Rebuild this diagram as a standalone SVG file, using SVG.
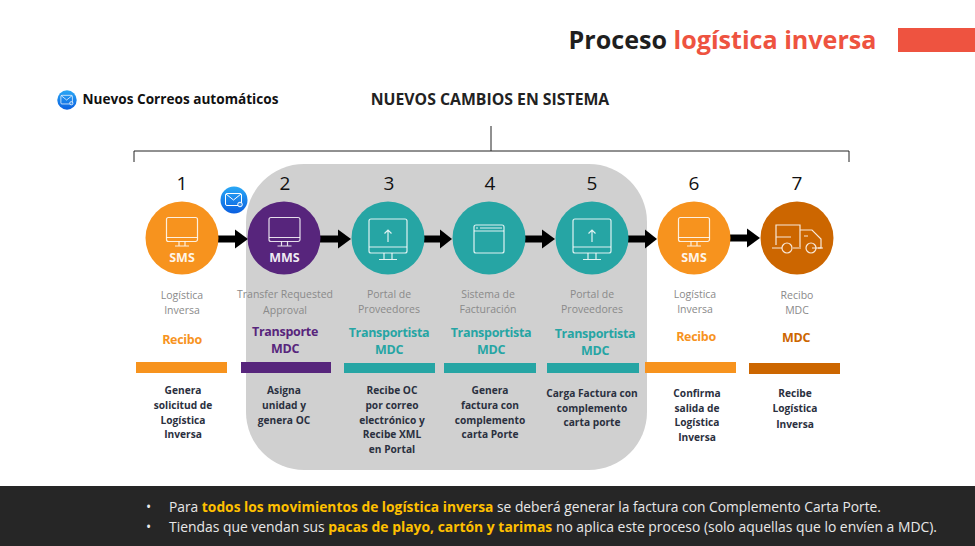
<svg xmlns="http://www.w3.org/2000/svg" width="975" height="546" viewBox="0 0 975 546">
<defs>
<style>
text{font-family:"Open Sans","Noto Sans","Liberation Sans",sans-serif;text-anchor:middle}
.num{font-size:19px;font-weight:500;fill:#111}
.sys{font-size:10.5px;fill:#8a8a8a}
.role{font-size:12.500px;font-weight:700;letter-spacing:-.3px}
.desc{font-size:10.2px;font-weight:700;fill:#2b3040}
.tag{font-size:12.500px;font-weight:700;fill:#fff;fill-opacity:.92}
.ico{fill:none;stroke:#fff;stroke-opacity:.85;stroke-width:1.2}
.org{fill:#f7931e}.pur{fill:#57257c}.teal{fill:#26a5a4}.brn{fill:#cc6600}
.conn{stroke:#000;stroke-width:7;fill:none}
.bot{font-size:13.800px;fill:#e8e8e8;text-anchor:start}
.hl{font-weight:700;fill:#ffc000}
</style>
<linearGradient id="mail" x1="0" y1="0" x2="0" y2="1"><stop offset="0" stop-color="#2aa8f5"/><stop offset="1" stop-color="#0a5fe0"/></linearGradient>
<g id="monitor" class="ico"><rect x="-15.500" y="-20.500" width="31" height="24" rx="2"/><path d="M-15.500-.5H15.500M-3 3.500V8M3 3.500V8M-7 8H7"/></g>
<g id="upload" class="ico"><rect x="-19" y="-19" width="38" height="34" rx="2"/><path d="M-19 9H19M-4 15V21.500M4 15V21.500M-9 21.500H9M0-8V4M-3.500-4.500L0-8L3.500-4.500"/></g>
<g id="mailicon"><circle r="13.500" fill="url(#mail)"/><g fill="none" stroke="#fff" stroke-width="1"><rect x="-8.500" y="-6.500" width="16" height="12" rx="1.500"/><path d="M-8-6L-.5 0L7-6"/><circle cx="6" cy="4.500" r="2.300" fill="#3a8ee8"/></g></g>
</defs>
<rect width="975" height="546" fill="#fff"/>
<g id="title">
<text x="722.500" y="49" font-size="25.100" font-weight="700" fill="#1f1f1f">Proceso <tspan fill="#ee5340">logística inversa</tspan></text>
<rect x="898" y="28" width="77" height="24" fill="#ee5340"/>
</g>
<g id="legend">
<use href="#mailicon" transform="translate(67,100) scale(.72)"/>
<text x="180.500" y="104" font-size="13.600" font-weight="700" fill="#111">Nuevos Correos automáticos</text>
</g>
<text id="heading" x="490" y="105" font-size="15.800" font-weight="700" fill="#222">NUEVOS CAMBIOS EN SISTEMA</text>
<path id="bracket" d="M134 162V151H849V162M491 151V126" fill="none" stroke="#222" stroke-width="1"/>
<rect id="panel" x="246" y="164" width="401" height="306" rx="58" fill="#d0d0d0"/>
<g id="connectors">
<path class="conn" d="M218 239H236"/><path d="M235 229.500L248 239L235 248.500Z"/>
<path class="conn" d="M320 239H339"/><path d="M338 229.500L351 239L338 248.500Z"/>
<path class="conn" d="M423 239H441"/><path d="M440 229.500L452 239L440 248.500Z"/>
<path class="conn" d="M524 239H543"/><path d="M542 229.500L555 239L542 248.500Z"/>
<path class="conn" d="M628 239H646"/><path d="M645 229.500L657 239L645 248.500Z"/>
<path class="conn" d="M730 238H748"/><path d="M747 228.500L760 238L747 247.500Z"/>
</g>
<g id="node1"><text class="num" x="182" y="190">1</text><circle class="org" cx="182" cy="238" r="36.500"/><use href="#monitor" x="182" y="238"/><text class="tag" x="182" y="262">SMS</text><text class="sys" x="182" y="299">Logística</text><text class="sys" x="182" y="314">Inversa</text><text class="role" x="182" y="344" fill="#f7931e">Recibo</text><rect class="org" x="136" y="362" width="91" height="11"/><text class="desc" x="183" y="394">Genera</text><text class="desc" x="183" y="409">solicitud de</text><text class="desc" x="183" y="423.500">Logística</text><text class="desc" x="183" y="438">Inversa</text></g>
<g id="mail-badge"><use href="#mailicon" x="234" y="200"/></g>
<g id="node2"><text class="num" x="285" y="190">2</text><circle class="pur" cx="284" cy="238" r="36.500"/><use href="#monitor" x="284.500" y="238"/><text class="tag" x="284.500" y="262">MMS</text><text class="sys" x="285" y="298">Transfer Requested</text><text class="sys" x="285" y="314">Approval</text><text class="role" x="285" y="336" fill="#57257c">Transporte</text><text class="role" x="285" y="353" fill="#57257c">MDC</text><rect class="pur" x="241" y="362" width="90" height="11"/><text class="desc" x="284" y="394">Asigna</text><text class="desc" x="284" y="409">unidad y</text><text class="desc" x="284" y="423.500">genera OC</text></g>
<g id="node3"><text class="num" x="389" y="190">3</text><circle class="teal" cx="388" cy="238" r="36.500"/><use href="#upload" x="388" y="238"/><text class="sys" x="389" y="298">Portal de</text><text class="sys" x="389" y="313">Proveedores</text><text class="role" x="389" y="337" fill="#26a5a4">Transportista</text><text class="role" x="389" y="354" fill="#26a5a4">MDC</text><rect class="teal" x="344" y="363" width="91" height="10"/><text class="desc" x="392" y="394">Recibe OC</text><text class="desc" x="392" y="409">por correo</text><text class="desc" x="392" y="424">electrónico y</text><text class="desc" x="392" y="438">Recibe XML</text><text class="desc" x="392" y="453">en Portal</text></g>
<g id="node4"><text class="num" x="490" y="190">4</text><circle class="teal" cx="489" cy="238" r="36.500"/><g class="ico"><rect x="474" y="225" width="30" height="28" rx="2"/><path d="M474 231H504M476 228H478M480 228H502"/></g><text class="sys" x="488" y="298">Sistema de</text><text class="sys" x="488" y="313">Facturación</text><text class="role" x="491" y="337" fill="#26a5a4">Transportista</text><text class="role" x="491" y="354" fill="#26a5a4">MDC</text><rect class="teal" x="444" y="363" width="92" height="10"/><text class="desc" x="490" y="394">Genera</text><text class="desc" x="490" y="409">factura con</text><text class="desc" x="490" y="424">complemento</text><text class="desc" x="490" y="438">carta Porte</text></g>
<g id="node5"><text class="num" x="592" y="190">5</text><circle class="teal" cx="592" cy="238" r="36.500"/><use href="#upload" x="592" y="238"/><text class="sys" x="592" y="298">Portal de</text><text class="sys" x="592" y="313">Proveedores</text><text class="role" x="595" y="338" fill="#26a5a4">Transportista</text><text class="role" x="595" y="355" fill="#26a5a4">MDC</text><rect class="teal" x="547" y="363" width="92" height="10"/><text class="desc" x="592" y="397">Carga Factura con</text><text class="desc" x="592" y="412">complemento</text><text class="desc" x="592" y="426">carta porte</text></g>
<g id="node6"><text class="num" x="694" y="190">6</text><circle class="org" cx="694" cy="238" r="36.500"/><use href="#monitor" x="694" y="238"/><text class="tag" x="694" y="262">SMS</text><text class="sys" x="695" y="298">Logística</text><text class="sys" x="695" y="313">Inversa</text><text class="role" x="696" y="341" fill="#f7931e">Recibo</text><rect class="org" x="645" y="362" width="91" height="11"/><text class="desc" x="697" y="397">Confirma</text><text class="desc" x="697" y="412">salida de</text><text class="desc" x="697" y="426">Logística</text><text class="desc" x="697" y="441">Inversa</text></g>
<g id="node7"><text class="num" x="797" y="190">7</text><circle class="brn" cx="797" cy="238" r="36.500"/><g class="ico"><path d="M776 245V225H800V247M776 237H791M800 230H812L821 239V248H812M776 248H782M793 248H801"/><circle cx="787" cy="248" r="5"/><circle cx="811" cy="248" r="5"/><path d="M772 248H776M818 248H823M804 236H808"/></g><text class="sys" x="797" y="299">Recibo</text><text class="sys" x="797" y="314">MDC</text><text class="role" x="796" y="342" fill="#cc6600">MDC</text><rect class="brn" x="749" y="363" width="91" height="11"/><text class="desc" x="795" y="397">Recibe</text><text class="desc" x="795" y="412">Logística</text><text class="desc" x="795" y="428">Inversa</text></g>
<g id="footer">
<rect y="486" width="975" height="60" fill="#262626"/>
<text class="bot" x="146" y="512">•</text><text class="bot" x="169" y="512">Para <tspan class="hl">todos los movimientos de logística inversa</tspan> se deberá generar la factura con Complemento Carta Porte.</text>
<text class="bot" x="146" y="532">•</text><text class="bot" x="169" y="532" style="font-size:13.900px">Tiendas que vendan sus <tspan class="hl">pacas de playo, cartón y tarimas</tspan> no aplica este proceso (solo aquellas que lo envíen a MDC).</text>
</g>
</svg>
